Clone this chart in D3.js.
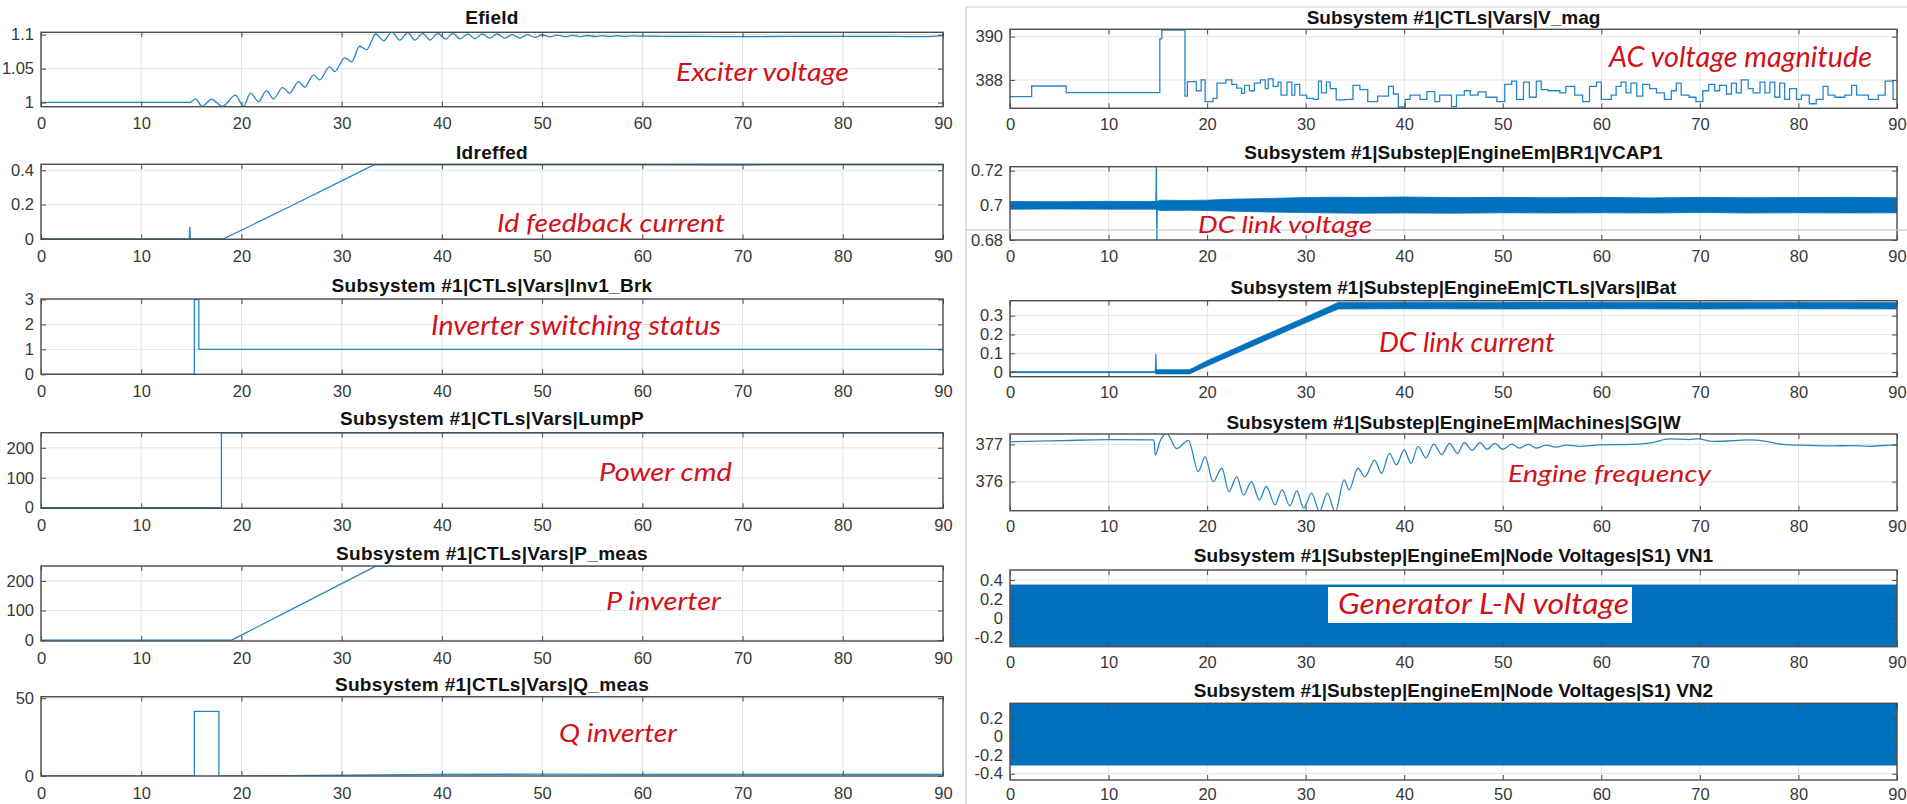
<!DOCTYPE html>
<html>
<head>
<meta charset="utf-8">
<script src="https://d3js.org/d3.v7.min.js"></script>
<style>
  body { margin: 0; background: #fff; }
  svg { display: block; }
</style>
</head>
<body>
<div id="chart"></div>
<script>
// ---- data: [time s, value] or [time s, low, high] ----
var xTicks = [0, 10, 20, 30, 40, 50, 60, 70, 80, 90];

var efield = [[0,1.0005],[14.9,1.0005],[15.4,1.0054],[16.1,0.9945],[17.0,1.005],[18.1,0.9945],[19.4,1.011],[20.2,0.9945],
  [20.9,1.014],[21.7,1.0015],[22.5,1.0176],[23.2,1.0054],[24.1,1.022],[24.8,1.014],[25.7,1.031],[26.3,1.0226],[27.2,1.0407],
  [27.8,1.0334],[28.8,1.053],[29.3,1.0456],[30.3,1.066],[31.0,1.060],[31.8,1.083],[32.5,1.078],[33.4,1.101],[34.2,1.091],
  [35.0,1.104],[35.8,1.092],[36.6,1.103],[37.3,1.092],[38.1,1.102],[38.8,1.092],[39.6,1.102],[40.4,1.0935],[41.1,1.102],
  [41.8,1.094],[42.6,1.101],[43.3,1.094],[44.0,1.101],[44.8,1.095],[45.5,1.101],[46.3,1.095],[47.0,1.100],[47.8,1.095],
  [48.5,1.100],[49.3,1.096],[50.0,1.0995],[50.8,1.0968],[51.5,1.0993],[52.3,1.097],[53.0,1.099],[53.8,1.0972],[54.5,1.0988],
  [55.3,1.0973],[56.0,1.0986],[56.8,1.0974],[57.5,1.0984],[58.3,1.0975],[59.0,1.0982],[60,1.0978],[62,1.0976],[65,1.0975],
  [68,1.0972],[70,1.097],[75,1.0975],[80,1.0975],[85,1.0975],[88,1.097],[90,1.0985]];

var idreffed = [[0,0.002],[1,0],[14.8,0],[14.85,0.07],[14.9,0],[18.2,0],[20,0.05],[25,0.193],[30,0.338],[33.2,0.432],
  [40,0.432],[50,0.432],[60,0.432],[70,0.431],[80,0.432],[90,0.432]];

var inv1Brk = [[0,0],[15.3,0],[15.3,3],[15.75,3],[15.75,1],[90,1]];

var lumpP = [[0,0],[18,0],[18,250],[90,250]];

var pMeas = [[0,0],[19,0],[20,17],[25,104],[30,191],[33.4,250],[90,250]];

var qMeas = [[0,0],[15.3,0],[15.3,41.5],[17.75,41.5],[17.75,0],[22,0],[30,0.6],[40,1],[50,1.2],[60,1],[70,1.1],[80,1],[90,1]];

var vMag = [[0,387.23],[2.2,387.72],[5.7,387.41],[15.2,389.9],[15.4,390.3],[17.75,387.25],[18.0,387.92],[18.9,387.5],
  [19.4,388.0],[19.8,387.0],[20.6,387.15],[21.0,387.85],[21.9,388.0],[22.5,387.8],[23.0,387.62],[23.5,387.38],[23.8,387.75],
  [24.3,387.5],[24.8,387.85],[25.4,388.0],[25.9,387.6],[26.2,388.05],[26.7,387.7],[27.2,387.9],[27.5,387.3],[28.1,387.9],
  [28.6,387.3],[28.9,387.8],[29.4,387.3],[30.1,387.15],[30.8,387.1],[31.3,387.95],[31.6,387.4],[32.1,387.9],[32.5,387.6],
  [33.1,387.08],[34.0,387.1],[34.8,387.75],[35.5,387.55],[36.3,387.0],[37.3,387.25],[38.4,387.7],[38.9,387.35],[39.4,386.75],
  [40.1,387.1],[40.6,387.3],[41.6,387.1],[42.3,387.46],[43.1,387.0],[43.6,387.3],[44.8,386.77],[45.3,387.3],[46.1,387.5],
  [46.7,387.3],[47.5,387.45],[48.3,387.2],[49.4,387.0],[50.2,387.8],[50.9,387.95],[51.4,387.1],[52.1,387.9],[52.7,387.2],
  [53.4,387.95],[53.9,387.55],[54.6,387.5],[55.8,387.4],[56.4,387.7],[57.3,387.3],[58.1,387.0],[58.8,387.7],[59.5,387.9],
  [60.0,387.1],[61.0,387.3],[61.5,387.7],[62.0,387.9],[62.5,387.4],[63.0,387.85],[63.6,387.25],[64.2,387.8],[64.9,387.6],
  [65.6,387.4],[66.4,387.1],[67.1,387.5],[67.6,387.85],[68.1,387.3],[68.9,387.2],[69.6,387.0],[70.3,387.5],[70.9,387.8],
  [71.5,387.5],[72.0,387.75],[72.7,387.35],[73.2,387.85],[73.7,387.4],[74.2,388.0],[74.9,387.6],[75.4,387.4],[76.1,387.9],
  [76.6,387.4],[77.1,387.9],[77.6,387.2],[78.1,387.85],[78.6,387.1],[79.1,387.6],[79.8,387.1],[80.3,387.3],[81.1,386.9],
  [81.8,387.1],[82.5,387.7],[83.0,387.3],[83.7,387.2],[84.7,387.3],[85.4,387.75],[85.9,387.3],[87.1,387.1],[88.1,387.3],
  [88.8,387.95],[89.6,387.1],[90,387.1]];

var vcap1Band = [[0,0.6978,0.7022],[5,0.6979,0.7021],[10,0.6978,0.7023],[14.9,0.6978,0.7022],[15.2,0.697,0.703],
  [18,0.6972,0.7028],[20,0.697,0.703],[22,0.6967,0.7035],[25,0.6963,0.7038],[28,0.696,0.7042],[30,0.6958,0.7045],
  [33,0.6956,0.7047],[36,0.6955,0.7046],[40,0.6956,0.7048],[45,0.6955,0.7045],[50,0.6957,0.7046],[55,0.6956,0.7044],
  [60,0.6957,0.7046],[65,0.6956,0.7043],[70,0.6958,0.7046],[75,0.6956,0.7044],[80,0.6957,0.7045],[85,0.6956,0.7046],
  [90,0.6957,0.7044]];
var vcap1Spike = [[14.8,0.7],[14.85,0.7226],[14.9,0.679],[14.95,0.7]];

var iBatBand = [[0,-0.003,0.002],[14.75,-0.003,0.002],[14.8,-0.01,0.012],[18.2,-0.01,0.012],[20,0.032,0.06],
  [25,0.147,0.177],[30,0.262,0.292],[33.3,0.336,0.371],[40,0.337,0.372],[50,0.336,0.371],[60,0.337,0.372],
  [70,0.336,0.371],[80,0.337,0.372],[90,0.336,0.371]];
var iBatSpike = [[14.75,0],[14.8,0.096],[14.85,0]];

var sgW = [[0,377.07],[5,377.1],[10,377.13],[14.6,377.12],[14.75,376.71],[15.2,377.07],[15.9,377.3],[16.9,376.89],
  [18.1,377.11],[19.1,376.27],[19.8,376.67],[20.6,376.0],[21.5,376.36],[22.2,375.73],[23.0,376.13],[23.7,375.64],
  [24.5,376.0],[25.3,375.51],[26.0,375.87],[26.9,375.38],[27.6,375.78],[28.4,375.35],[29.1,375.75],[29.8,375.29],
  [30.6,375.69],[31.4,375.2],[32.2,375.69],[33.0,375.18],[33.9,376.05],[34.4,375.78],[35.3,376.36],[36.0,376.13],
  [37.0,376.58],[37.7,376.22],[38.5,376.76],[39.2,376.45],[40.0,376.85],[40.7,376.49],[41.4,376.95],[42.2,376.64],
  [43.0,377.01],[43.8,376.73],[44.6,377.03],[45.4,376.76],[46.1,377.05],[46.9,376.84],[47.7,377.05],[48.4,376.87],
  [49.2,377.03],[50.0,376.87],[50.9,377.01],[51.7,376.9],[52.6,377.0],[53.4,376.9],[54.4,376.98],[55.4,376.93],
  [56.5,376.98],[57.8,376.95],[59.8,376.99],[63.2,377.0],[65.2,377.05],[66.9,377.15],[68.9,377.13],[69.8,377.15],
  [71.3,377.08],[73.3,377.1],[75.0,377.12],[76.7,377.08],[78.4,377.0],[80.1,376.98],[83.1,376.96],[85.5,376.97],
  [87.1,376.95],[89.4,376.98],[90,376.98]];

var vn1Band = [[0,-0.33,0.348],[90,-0.33,0.348]];
var vn2Band = [[0,-0.307,0.37],[90,-0.307,0.37]];

// ---- layout ----
var W = 1907, H = 804;
var L = { x0: 41, x1: 943 }, R = { x0: 1010, x1: 1897 };
var blue = "#0072BD";

var panels = [
  { col: L, top: 32.3, bottom: 106.7, domain: [0.994, 1.1035], yTicks: [1, 1.05, 1.1], title: "Efield", titleY: 24,
    lines: [{ data: efield, curve: d3.curveMonotoneX }] },
  { col: L, top: 164.3, bottom: 239.3, domain: [-0.003, 0.435], yTicks: [0, 0.2, 0.4], title: "Idreffed", titleY: 158.8,
    lines: [{ data: idreffed }] },
  { col: L, top: 299, bottom: 374.3, domain: [0, 3.02], yTicks: [0, 1, 2, 3], title: "Subsystem #1|CTLs|Vars|Inv1_Brk", titleY: 291.8,
    lines: [{ data: inv1Brk }] },
  { col: L, top: 432.7, bottom: 508.3, domain: [-2, 250.5], yTicks: [0, 100, 200], title: "Subsystem #1|CTLs|Vars|LumpP", titleY: 424.8,
    lines: [{ data: lumpP }] },
  { col: L, top: 566, bottom: 641, domain: [-3, 250.5], yTicks: [0, 100, 200], title: "Subsystem #1|CTLs|Vars|P_meas", titleY: 559.8,
    lines: [{ data: pMeas }] },
  { col: L, top: 696.7, bottom: 776, domain: [0, 51], yTicks: [0, 50], title: "Subsystem #1|CTLs|Vars|Q_meas", titleY: 690.8,
    lines: [{ data: qMeas }] },
  { col: R, top: 29.3, bottom: 108.3, domain: [386.69, 390.34], yTicks: [388, 390], title: "Subsystem #1|CTLs|Vars|V_mag", titleY: 23.5,
    lines: [{ data: vMag, curve: d3.curveStepAfter }] },
  { col: R, top: 166.7, bottom: 240, domain: [0.68, 0.7223], yTicks: [0.68, 0.7, 0.72], title: "Subsystem #1|Substep|EngineEm|BR1|VCAP1", titleY: 158.8,
    bands: [vcap1Band], lines: [{ data: vcap1Spike }] },
  { col: R, top: 300.7, bottom: 376.7, domain: [-0.025, 0.38], yTicks: [0, 0.1, 0.2, 0.3], title: "Subsystem #1|Substep|EngineEm|CTLs|Vars|IBat", titleY: 293.5,
    bands: [iBatBand], lines: [{ data: iBatSpike }] },
  { col: R, top: 434, bottom: 510.7, domain: [375.22, 377.28], yTicks: [376, 377], title: "Subsystem #1|Substep|EngineEm|Machines|SG|W", titleY: 428.5,
    lines: [{ data: sgW, curve: d3.curveMonotoneX }] },
  { col: R, top: 570, bottom: 646.7, domain: [-0.3, 0.505], yTicks: [-0.2, 0, 0.2, 0.4], title: "Subsystem #1|Substep|EngineEm|Node Voltages|S1) VN1", titleY: 561.8,
    bands: [vn1Band] },
  { col: R, top: 703.3, bottom: 780, domain: [-0.468, 0.361], yTicks: [-0.4, -0.2, 0, 0.2], title: "Subsystem #1|Substep|EngineEm|Node Voltages|S1) VN2", titleY: 696.8,
    bands: [vn2Band], pad: 8 }
];

var notes = [
  { text: "Exciter voltage", x: 676, y: 81, w: 173, size: 24.5 },
  { text: "Id feedback current", x: 497, y: 231.5, w: 228, size: 25.5 },
  { text: "Inverter switching status", x: 431, y: 335, w: 290, size: 26.5 },
  { text: "Power cmd", x: 599, y: 481, w: 133, size: 25.5 },
  { text: "P inverter", x: 606, y: 610, w: 115, size: 25.5 },
  { text: "Q inverter", x: 559, y: 741.5, w: 118, size: 25.5 },
  { text: "AC voltage magnitude", x: 1609, y: 66.5, w: 263, size: 28 },
  { text: "DC link voltage", x: 1198, y: 233, w: 174, size: 23 },
  { text: "DC link current", x: 1379, y: 352, w: 176, size: 27 },
  { text: "Engine frequency", x: 1508, y: 482, w: 203, size: 24 },
  { text: "Generator L-N voltage", x: 1338, y: 614, w: 291, size: 28, box: [1328, 587, 1632, 623] }
];

var svg = d3.select("#chart").append("svg")
  .attr("width", W)
  .attr("height", H)
  .style("font-family", "'Liberation Sans', Arial, sans-serif");

// frame lines of the pasted screenshots
var frame = svg.append("g").attr("stroke", "#cccccc").attr("stroke-width", 1.2);
frame.append("line").attr("x1", 966).attr("x2", 966).attr("y1", 7).attr("y2", H);
frame.append("line").attr("x1", 966).attr("x2", W).attr("y1", 7).attr("y2", 7);

var tickFont = 16.5;

function styleAxis(g) {
  g.select(".domain").remove();
  g.attr("font-family", null).attr("font-size", null).style("color", "#4d4d4d");
  g.selectAll(".tick line").attr("stroke", "#4d4d4d");
  g.selectAll("text").attr("fill", "#383838").style("font-size", tickFont + "px");
}

panels.forEach(function (p, i) {
  var x = d3.scaleLinear().domain([0, 90]).range([p.col.x0, p.col.x1]);
  var y = d3.scaleLinear().domain(p.domain).range([p.bottom, p.top]);
  var g = svg.append("g");
  var pad = p.pad || (p.col === L ? 11 : 10);

  svg.append("clipPath").attr("id", "clip" + i)
    .append("rect")
    .attr("x", p.col.x0).attr("y", p.top)
    .attr("width", p.col.x1 - p.col.x0).attr("height", p.bottom - p.top);

  // grid
  g.append("g").selectAll("line").data(xTicks).join("line")
    .attr("x1", x).attr("x2", x).attr("y1", p.top).attr("y2", p.bottom)
    .attr("stroke", "#e4e4e4");
  g.append("g").selectAll("line").data(p.yTicks).join("line")
    .attr("x1", p.col.x0).attr("x2", p.col.x1).attr("y1", y).attr("y2", y)
    .attr("stroke", "#e4e4e4");

  var plot = g.append("g").attr("clip-path", "url(#clip" + i + ")");

  (p.bands || []).forEach(function (b) {
    plot.append("path")
      .datum(b)
      .attr("fill", blue)
      .attr("stroke", blue)
      .attr("stroke-width", 0.8)
      .attr("d", d3.area()
        .x(function (d) { return x(d[0]); })
        .y0(function (d) { return y(d[1]); })
        .y1(function (d) { return y(d[2]); }));
  });

  (p.lines || []).forEach(function (l) {
    plot.append("path")
      .datum(l.data)
      .attr("fill", "none")
      .attr("stroke", blue)
      .attr("stroke-opacity", 0.85)
      .attr("stroke-width", 1.3)
      .attr("d", d3.line()
        .curve(l.curve || d3.curveLinear)
        .x(function (d) { return x(d[0]); })
        .y(function (d) { return y(d[1]); }));
  });

  // axes, ticks point inwards on all four sides
  g.append("g").attr("transform", "translate(0," + p.bottom + ")")
    .call(d3.axisBottom(x).tickValues(xTicks).tickSizeInner(-5).tickSizeOuter(0).tickPadding(pad)
      .tickFormat(function (d) { return String(d); }))
    .call(styleAxis);
  g.append("g").attr("transform", "translate(0," + p.top + ")")
    .call(d3.axisTop(x).tickValues(xTicks).tickSizeInner(-5).tickSizeOuter(0).tickFormat(""))
    .call(styleAxis);
  g.append("g").attr("transform", "translate(" + p.col.x0 + ",0)")
    .call(d3.axisLeft(y).tickValues(p.yTicks).tickSizeInner(-5).tickSizeOuter(0).tickPadding(7)
      .tickFormat(function (d) { return String(d); }))
    .call(styleAxis);
  g.append("g").attr("transform", "translate(" + p.col.x1 + ",0)")
    .call(d3.axisRight(y).tickValues(p.yTicks).tickSizeInner(-5).tickSizeOuter(0).tickFormat(""))
    .call(styleAxis);

  g.append("rect")
    .attr("x", p.col.x0).attr("y", p.top)
    .attr("width", p.col.x1 - p.col.x0).attr("height", p.bottom - p.top)
    .attr("fill", "none").attr("stroke", "#4d4d4d").attr("stroke-width", 1.4);

  g.append("text")
    .attr("x", (p.col.x0 + p.col.x1) / 2)
    .attr("y", p.titleY)
    .attr("text-anchor", "middle")
    .attr("font-weight", "bold")
    .attr("font-size", 19)
    .attr("letter-spacing", p.col === L ? 0.3 : 0)
    .attr("fill", "#111")
    .text(p.title);
});

// border of the third pasted screenshot crossing the VCAP1 panel
svg.append("line").attr("x1", 966).attr("x2", W).attr("y1", 230).attr("y2", 230)
  .attr("stroke", "#c4c4c4").attr("stroke-width", 1.2);

// red annotations
notes.forEach(function (n) {
  if (n.box) {
    svg.append("rect")
      .attr("x", n.box[0]).attr("y", n.box[1])
      .attr("width", n.box[2] - n.box[0]).attr("height", n.box[3] - n.box[1])
      .attr("fill", "#fff");
  }
  svg.append("text")
    .attr("x", n.x).attr("y", n.y)
    .attr("textLength", n.w)
    .attr("lengthAdjust", "spacingAndGlyphs")
    .attr("font-family", "Lato, 'Open Sans', sans-serif")
    .attr("font-style", "italic")
    .attr("font-size", n.size)
    .attr("fill", "#d0121b")
    .text(n.text);
});
</script>
</body>
</html>
